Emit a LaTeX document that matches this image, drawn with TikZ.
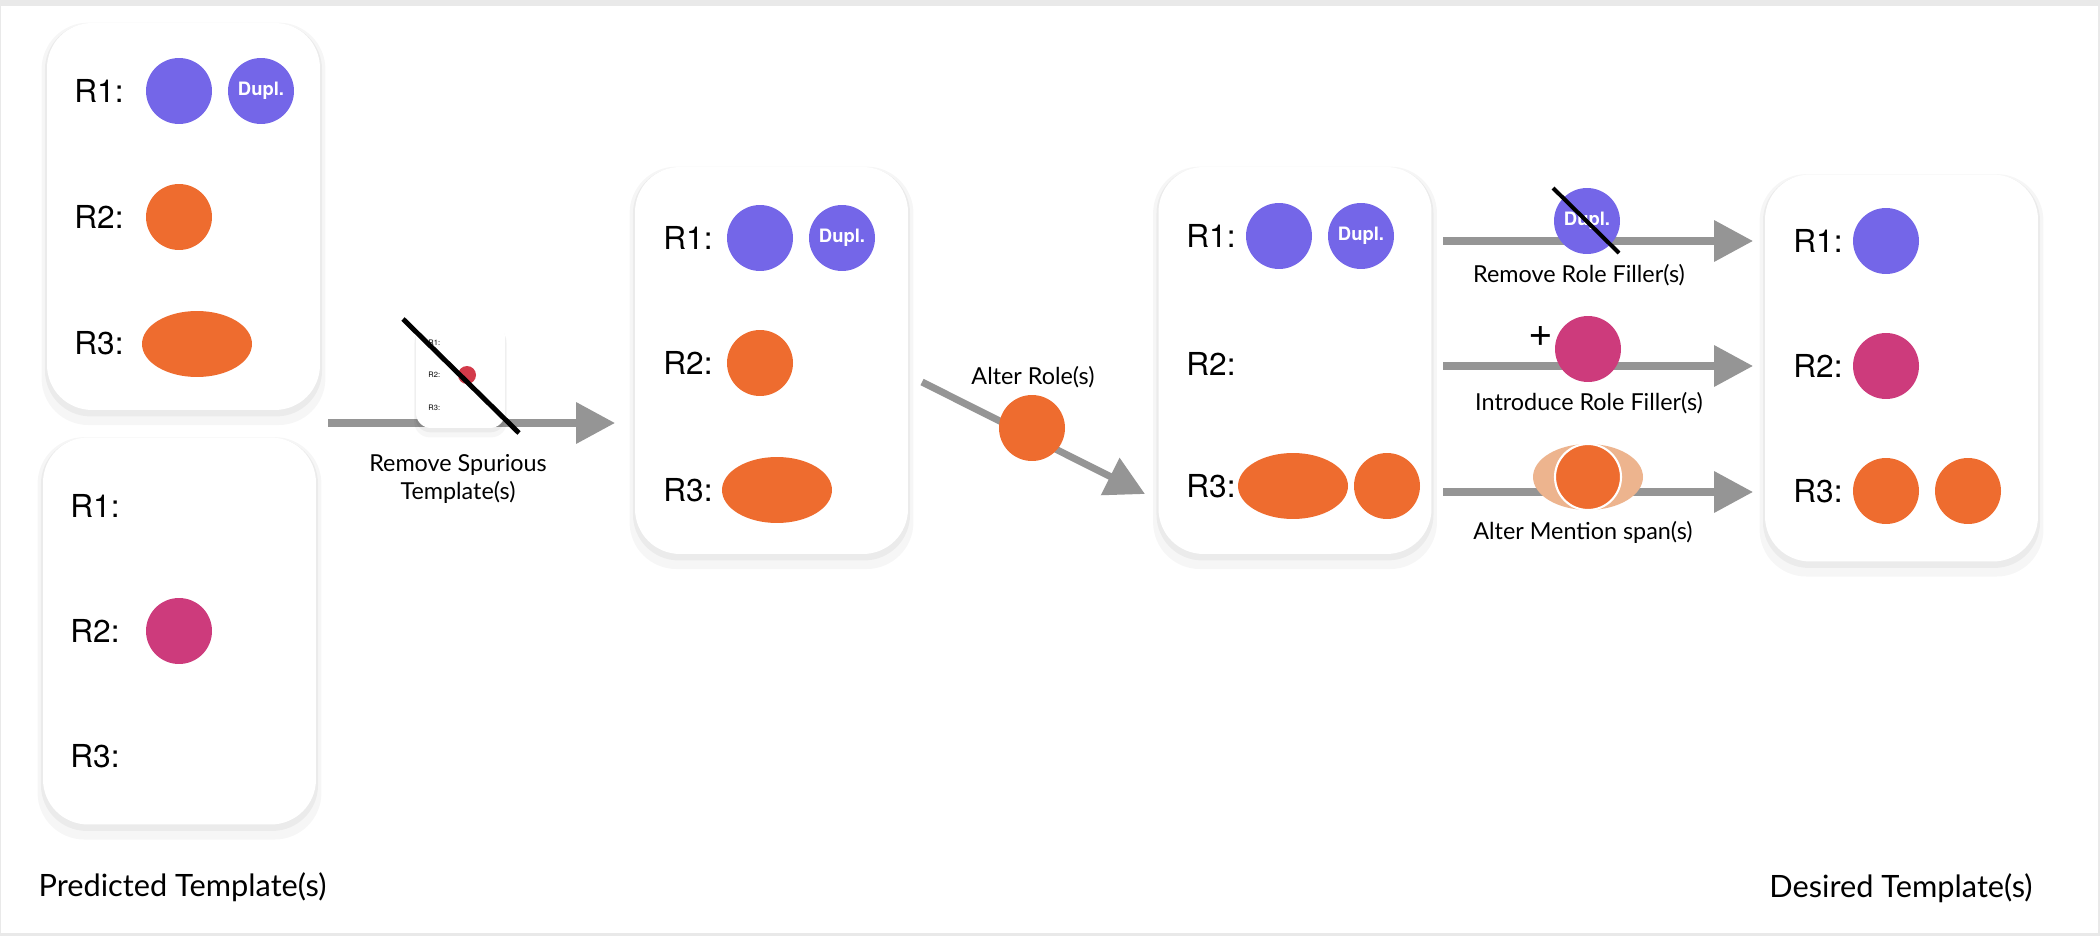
\documentclass[tikz,border=0pt]{standalone}
\usepackage{fontspec}
\setmainfont{Lato}
\newfontfamily\rolefont{TeX Gyre Heros}
\usetikzlibrary{arrows.meta, positioning, shapes.geometric, shadows}

\definecolor{rolepurple}{HTML}{7466E8}
\definecolor{roleorange}{HTML}{EE6C2F}
\definecolor{rolemagenta}{HTML}{CD3B7C}
\definecolor{rolepeach}{HTML}{EDB48E}
\definecolor{rolered}{HTML}{D33A4A}
\definecolor{flowgray}{HTML}{959595}
\definecolor{framegray}{HTML}{E9E9E9}

\begin{document}
\begin{tikzpicture}[
    x=0.02cm, y=-0.02cm,
    soft/.style={general shadow={fill=black, opacity=0.035, shadow scale=1.04, shadow yshift=-4pt},
        general shadow={fill=black, opacity=0.045, shadow scale=1.015, shadow yshift=-2pt}},
    card/.style={rectangle, rounded corners=0.9cm, fill=white, minimum width=5.46cm, minimum height=7.74cm, soft},
    minicard/.style={rectangle, rounded corners=0.3cm, fill=white, minimum width=1.78cm, minimum height=2.12cm, soft},
    role/.style={font=\rolefont\fontsize{18}{20}\selectfont, anchor=west, inner sep=0pt},
    minirole/.style={font=\rolefont\fontsize{4.3}{5}\selectfont, anchor=west, inner sep=0pt},
    filler/.style={circle, fill=#1, minimum size=1.32cm, inner sep=0pt, text=white, font=\rolefont\bfseries\fontsize{10.5}{12}\selectfont},
    span/.style={ellipse, fill=#1, minimum width=2.2cm, minimum height=1.32cm, inner sep=0pt},
    flow/.style={draw=flowgray, line width=4pt, -{Triangle[length=0.78cm, width=0.8cm]}},
    strike/.style={draw=black, line width=#1},
    caption/.style={font=\fontsize{13.3}{16}\selectfont, align=center, inner sep=0pt},
    title/.style={font=\fontsize{17.5}{20}\selectfont, inner sep=0pt}
]
\useasboundingbox (0,0) rectangle (2100,936);
\fill[framegray] (0,0) rectangle (2100,936);
\fill[white] (1,6) rectangle (2098,933);

% Predicted template 1
\node[card] (pred1) at (183.5,216.5) {};
\node[role] (pred1r1) at (74,91) {R1:};
\node[filler=rolepurple] (pred1a) at (179,91) {};
\node[filler=rolepurple] (pred1b) at (261,91) {Dupl.};
\node[role] (pred1r2) at (74,217) {R2:};
\node[filler=roleorange] (pred1c) at (179,217) {};
\node[role] (pred1r3) at (74,343) {R3:};
\node[span=roleorange] (pred1d) at (197,344) {};

% Predicted template 2
\node[card] (pred2) at (179.5,631) {};
\node[role] (pred2r1) at (70,506) {R1:};
\node[role] (pred2r2) at (70,631) {R2:};
\node[filler=rolemagenta] (pred2a) at (179,631) {};
\node[role] (pred2r3) at (70,756) {R3:};

% After removing spurious template
\node[card] (mid1) at (771.5,360.5) {};
\node[role] (mid1r1) at (663,238) {R1:};
\node[filler=rolepurple] (mid1a) at (760,238) {};
\node[filler=rolepurple] (mid1b) at (842,238) {Dupl.};
\node[role] (mid1r2) at (663,363) {R2:};
\node[filler=roleorange] (mid1c) at (760,363) {};
\node[role] (mid1r3) at (663,490) {R3:};
\node[span=roleorange] (mid1d) at (777,490) {};

% After altering roles
\node[card] (mid2) at (1295,360.5) {};
\node[role] (mid2r1) at (1186,236) {R1:};
\node[filler=rolepurple] (mid2a) at (1279,236) {};
\node[filler=rolepurple] (mid2b) at (1361,236) {Dupl.};
\node[role] (mid2r2) at (1186,364) {R2:};
\node[role] (mid2r3) at (1186,486) {R3:};
\node[span=roleorange] (mid2c) at (1293,486) {};
\node[filler=roleorange] (mid2d) at (1387,486) {};

% Desired template
\node[card] (gold) at (1901.5,368) {};
\node[role] (goldr1) at (1793,241) {R1:};
\node[filler=rolepurple] (golda) at (1886,241) {};
\node[role] (goldr2) at (1793,366) {R2:};
\node[filler=rolemagenta] (goldb) at (1886,366) {};
\node[role] (goldr3) at (1793,491) {R3:};
\node[filler=roleorange] (goldc) at (1886,491) {};
\node[filler=roleorange] (goldd) at (1968,491) {};

% Remove spurious template(s)
\coordinate (spurin) at (328,423);
\coordinate (spurout) at (615,423);
\draw[flow] (spurin) -- (spurout);
\node[minicard] (spur) at (460.5,375) {};
\node[minirole] (spurr1) at (428,343) {R1:};
\node[minirole] (spurr2) at (428,375) {R2:};
\node[circle, fill=rolered, minimum size=0.36cm, inner sep=0pt] (spura) at (467,375) {};
\node[minirole] (spurr3) at (428,408) {R3:};
\draw[strike=2.8pt] (403,319) -- (519,433);
\node[caption] (spurtxt) at (458,479) {Remove Spurious\\Template(s)};

% Alter role(s)
\coordinate (altin) at (922,382);
\coordinate (altout) at (1145,494);
\draw[flow] (altin) -- (altout);
\node[filler=roleorange] (alta) at (1032,428) {};
\node[caption] (alttxt) at (1033,377) {Alter Role(s)};

% Remove role filler(s)
\coordinate (remin) at (1443,241);
\coordinate (remout) at (1753,241);
\draw[flow] (remin) -- (remout);
\node[filler=rolepurple] (rema) at (1587,221) {Dupl.};
\draw[strike=2.3pt] (1553,188) -- (1619,253);
\node[caption] (remtxt) at (1579,275) {Remove Role Filler(s)};

% Introduce role filler(s)
\coordinate (addin) at (1443,366);
\coordinate (addout) at (1753,366);
\draw[flow] (addin) -- (addout);
\node[filler=rolemagenta] (adda) at (1588,349) {};
\node[font=\rolefont\fontsize{24}{24}\selectfont, inner sep=0pt] (addplus) at (1541,337) {+};
\node[caption] (addtxt) at (1589,403) {Introduce Role Filler(s)};

% Alter mention span(s)
\coordinate (spanin) at (1443,492);
\coordinate (spanout) at (1753,492);
\draw[flow] (spanin) -- (spanout);
\node[span=rolepeach] (spana) at (1588,477) {};
\node[filler=roleorange, draw=white, line width=1.2pt] (spanb) at (1588,477) {};
\node[caption] (spantxt) at (1583,532) {Alter Mention span(s)};

% Titles
\node[title] (predtxt) at (182.5,887) {Predicted Template(s)};
\node[title] (goldtxt) at (1901,888) {Desired Template(s)};

\end{tikzpicture}
\end{document}
